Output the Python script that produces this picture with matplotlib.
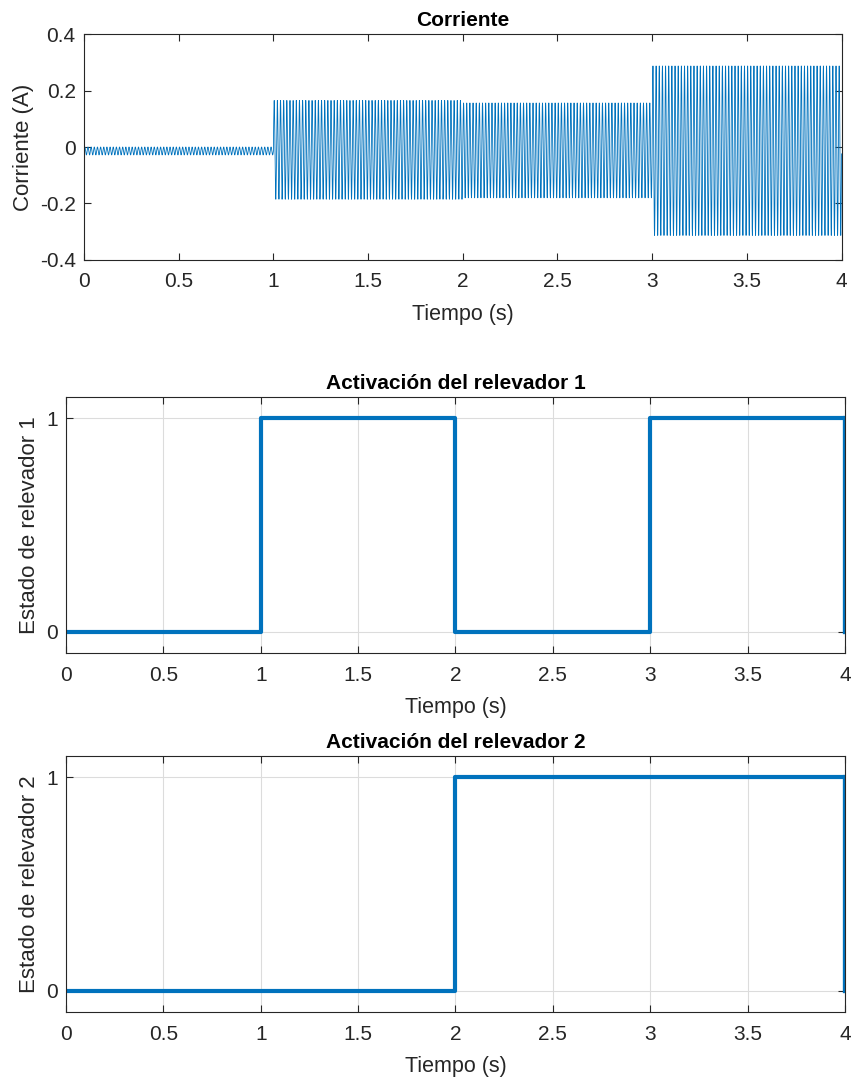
import numpy as np
import matplotlib.pyplot as plt
from matplotlib.ticker import FuncFormatter

plt.rcParams['font.family'] = ['Liberation Sans', 'DejaVu Sans']
plt.rcParams['axes.unicode_minus'] = False

# corriente: tramos de 1 s, senoidal de 60 Hz (offset y amplitud)
seg_inicio = [0.0, 1.0, 2.0, 3.0]
seg_fin = [1.0, 2.0, 3.0, 4.0]
seg_offset = [-0.014, -0.010, -0.012, -0.013]
seg_amp = [0.014, 0.175, 0.168, 0.300]
frec = 60.0

# estados de los relevadores (escalon, ultimo punto vuelve a 0 en t=4)
rel1_t = [0, 1, 2, 3, 4]
rel1_estado = [0, 1, 0, 1, 0]
rel2_t = [0, 2, 4]
rel2_estado = [0, 1, 0]

xticks = [0, 0.5, 1, 1.5, 2, 2.5, 3, 3.5, 4]
azul = '#0072BD'
gris = '#262626'

fmt = FuncFormatter(lambda v, p: ('%g' % round(v, 3)))

t = np.linspace(0, 4, 40001)
corriente = np.zeros_like(t)
for a, b, off, amp in zip(seg_inicio, seg_fin, seg_offset, seg_amp):
    m = (t >= a) & (t < b)
    corriente[m] = off + amp * np.sin(2 * np.pi * frec * t[m])
corriente[-1] = corriente[-2]


def estilo(ax, grid):
    ax.tick_params(direction='in', top=True, right=True, length=5, width=0.8,
                   labelsize=15, colors=gris)
    ax.tick_params(axis='x', pad=9)
    ax.tick_params(axis='y', pad=6)
    for s in ax.spines.values():
        s.set_color(gris)
        s.set_linewidth(0.8)
    ax.set_xlim(0, 4)
    ax.set_xticks(xticks)
    ax.xaxis.set_major_formatter(fmt)
    if grid:
        ax.grid(True, color='#dcdcdc', linewidth=0.8)
        ax.set_axisbelow(True)


fig = plt.figure(figsize=(8.54, 10.81), dpi=100)

ax1 = fig.add_axes([0.0984, 0.7595, 0.887, 0.209])
ax1.plot(t, corriente, color=azul, linewidth=0.6)
estilo(ax1, False)
ax1.set_ylim(-0.4, 0.4)
ax1.set_yticks([-0.4, -0.2, 0, 0.2, 0.4])
ax1.yaxis.set_major_formatter(fmt)
ax1.set_title('Corriente', fontsize=15, fontweight='bold', pad=6)
ax1.set_xlabel('Tiempo (s)', fontsize=15.5, color=gris, labelpad=9)
ax1.set_ylabel('Corriente (A)', fontsize=16, color=gris)

ax2 = fig.add_axes([0.0773, 0.3959, 0.912, 0.2368])
ax2.plot(rel1_t, rel1_estado, drawstyle='steps-post', color=azul, linewidth=3)
ax2.plot([4, 4], [rel1_estado[-2], rel1_estado[-1]], color=azul, linewidth=3)
estilo(ax2, True)
ax2.set_ylim(-0.1, 1.1)
ax2.set_yticks([0, 1])
ax2.set_title('Activación del relevador 1', fontsize=15, fontweight='bold', pad=6)
ax2.set_xlabel('Tiempo (s)', fontsize=15.5, color=gris, labelpad=9)
ax2.set_ylabel('Estado de relevador 1', fontsize=16, color=gris)

ax3 = fig.add_axes([0.0773, 0.0638, 0.912, 0.2368])
ax3.plot(rel2_t, rel2_estado, drawstyle='steps-post', color=azul, linewidth=3)
ax3.plot([4, 4], [rel2_estado[-2], rel2_estado[-1]], color=azul, linewidth=3)
estilo(ax3, True)
ax3.set_ylim(-0.1, 1.1)
ax3.set_yticks([0, 1])
ax3.set_title('Activación del relevador 2', fontsize=15, fontweight='bold', pad=6)
ax3.set_xlabel('Tiempo (s)', fontsize=15.5, color=gris, labelpad=9)
ax3.set_ylabel('Estado de relevador 2', fontsize=16, color=gris)

fig.savefig('out.png', dpi=100, facecolor='white')
